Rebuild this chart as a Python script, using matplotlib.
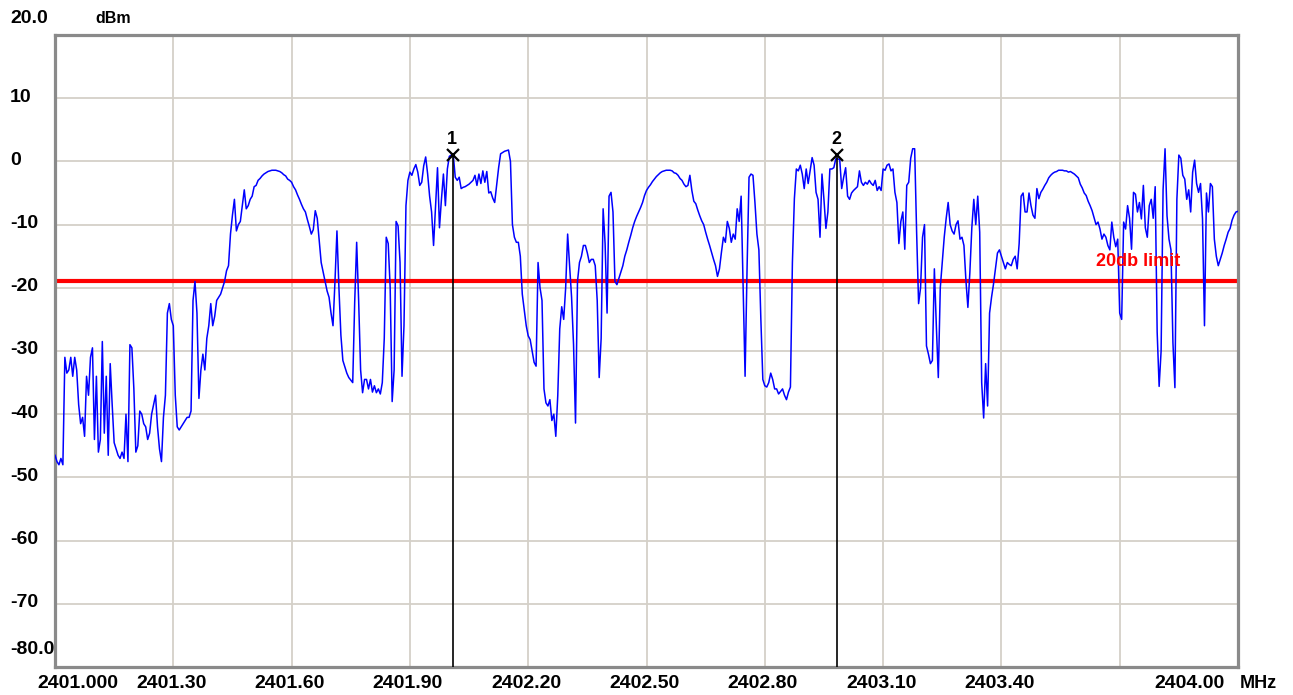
"""
Spectrum analyzer sweep, 2401-2404 MHz, with two peak markers and a
-19 dBm "20db limit" reference line.  Redrawn as out.png (1293x695).
"""

import numpy as np
import matplotlib
matplotlib.use("Agg")
import matplotlib.pyplot as plt
import matplotlib.transforms as mtrans

OUT_PATH = "out.png"

# sweep: 601 analyzer bins from 2401.000 to 2404.000 MHz
F_START = 2401.0
F_STOP = 2404.0
N_BINS = 601

# trace level per bin (dBm), 10 bins per row
level_dbm = [
    -46.5, -47.5, -48, -47, -48, -31, -33.5, -33, -31, -34,
    -31, -33, -38.5, -41.5, -40.5, -43.5, -34, -37, -31, -29.5,
    -44, -34, -46, -44, -28.5, -43, -34, -46.5, -32, -38.5,
    -44.5, -45.5, -46.5, -47, -46, -47, -40, -47.5, -29, -29.5,
    -36, -46, -45, -39.5, -40, -41.5, -42, -44, -43, -40,
    -38.5, -37, -42, -45.5, -47.5, -40.5, -37, -24, -22.5, -25,
    -26, -37, -42, -42.5, -42, -41.5, -41, -40.5, -40.5, -39.5,
    -22, -19, -24, -37.5, -33, -30.5, -33, -28, -26, -22.5,
    -26, -24.5, -22, -21.5, -21, -20, -19, -17.3, -16.5, -11.5,
    -8.5, -6, -11, -10, -9.5, -7, -4.5, -7.5, -7, -6,
    -5.5, -4, -3.8, -3, -2.7, -2.3, -2, -1.8, -1.6, -1.5,
    -1.4, -1.4, -1.4, -1.5, -1.6, -1.8, -2.1, -2.3, -2.8, -3,
    -3.3, -4, -4.5, -5.3, -6, -6.8, -7.5, -8, -9.2, -10.3,
    -11.5, -10.8, -7.8, -9, -12.5, -16, -17.5, -19, -20.5, -21.5,
    -24, -26, -19, -11, -20, -27.5, -31.5, -32.5, -33.5, -34.2,
    -34.6, -35, -22.3, -12.8, -22, -33, -36.6, -34.5, -34.5, -36,
    -34.5, -36.5, -35.5, -36.6, -36, -36.8, -35, -28, -12, -13,
    -20, -38, -33, -9.5, -10.2, -16, -34, -26, -7, -3,
    -1.7, -2.2, -1.2, -0.5, -1.7, -3.8, -3.3, -0.7, 0.7, -2,
    -5.5, -8, -13.3, -7, -1, -10.5, -6, -2, -7, -1.2,
    0.8, 1, 1, -2.5, -3, -2.5, -4.3, -4.1, -4, -3.8,
    -3.6, -3.3, -3, -2.2, -3.8, -2, -3.5, -1.5, -3.3, -1.6,
    -5, -4.8, -5.8, -6.5, -3.8, -1, 1.2, 1.4, 1.6, 1.7,
    1.8, 0, -10, -12, -12.8, -12.8, -15, -21, -23.5, -26,
    -27.6, -28.2, -30, -31.8, -32.4, -16, -20, -22, -36, -38.2,
    -38.7, -37.7, -41, -40, -43.5, -37, -26.5, -23, -25, -20,
    -11.5, -16.5, -21.5, -29, -41.4, -19, -16, -15, -13.3, -13.3,
    -14.5, -16, -15.5, -15.5, -16.5, -22, -34.2, -28, -7.5, -13,
    -24, -5.5, -4.9, -8, -19, -19.5, -18.5, -17.5, -16.5, -15,
    -14, -12.8, -11.7, -10.5, -9.5, -8.7, -8, -7.3, -6.5, -5.4,
    -4.6, -4.1, -3.7, -3.2, -2.8, -2.4, -2.1, -1.8, -1.6, -1.5,
    -1.4, -1.4, -1.4, -1.5, -1.8, -1.9, -2.2, -2.7, -3, -3.6,
    -4, -3.8, -2.2, -4.6, -6.3, -6.7, -7.7, -8.6, -9.4, -10,
    -11.2, -12.3, -13.3, -14.4, -15.5, -16.5, -18.2, -17, -14.4, -12,
    -12.8, -9.5, -10.6, -12.8, -11.5, -12.3, -7.5, -9.5, -5.5, -20,
    -34, -17, -2.5, -2, -2.2, -6.5, -11.5, -14, -25, -34.5,
    -35.5, -35.7, -35, -33.5, -34.5, -36, -36, -36.8, -36.4, -36,
    -37, -37.7, -36.5, -35.7, -16, -5.9, -1.2, -1.5, -0.6, -2,
    -4.3, -1.2, -3.5, -1.5, 0.6, -0.6, -4.9, -6, -12, -2,
    -6, -10.6, -8, -1.2, -1.2, -1, 0.4, 0.4, 0.3, -4.3,
    -2.5, -1, -5.5, -6, -5, -4.6, -4.3, -4, -1.5, -3.3,
    -3.8, -3.3, -3.6, -3, -3.5, -3.8, -3, -4.6, -4, -4.6,
    -1.2, -1.4, -0.6, -0.4, -1.5, -1.2, -4.9, -6.5, -13, -9.5,
    -8, -13.9, -3.8, -3.3, 0.5, 2, 2, -11.2, -22.5, -20,
    -12, -10, -29.2, -30.5, -32, -31.5, -17, -26, -34.2, -20,
    -16, -12, -9, -6.5, -10, -11, -11.5, -10, -9.4, -12.3,
    -12, -13.3, -18.8, -23.1, -17.6, -10.5, -6, -10, -5.5, -11.2,
    -35, -40.6, -32, -38.7, -24, -21.5, -19.4, -17, -14.5, -14,
    -15, -16, -17, -16, -16.3, -16.5, -15.5, -15, -17, -13,
    -5.5, -5, -8, -8, -5, -7, -8.5, -9, -4.3, -5.9,
    -4.9, -4.4, -3.8, -3.3, -2.6, -2.2, -1.9, -1.7, -1.6, -1.4,
    -1.4, -1.4, -1.5, -1.5, -1.7, -1.6, -1.8, -2, -2.3, -2.6,
    -3.6, -4.2, -5, -5.4, -6.3, -7, -7.8, -8.9, -10, -9.6,
    -10.7, -12.3, -11.5, -12, -13.3, -14, -9.6, -12, -13.5, -12.3,
    -24, -25, -9.6, -10.7, -7, -9, -13.9, -4.9, -5.2, -8,
    -6.5, -9.1, -3.8, -10.5, -12, -7, -6, -9, -4, -27,
    -35.6, -30, -4.5, 2, -8.6, -12.3, -14, -28.7, -35.8, -6,
    1, 0.5, -2.2, -2.8, -6, -4.5, -8, -1.7, 0.2, -3.5,
    -4.9, -3.5, -9.1, -26, -5, -8, -3.5, -4, -12.3, -15,
    -16.5, -15.5, -14.5, -13.3, -12.3, -11.2, -10.6, -9.3, -8.5, -8,
    -7.9,
]

# markers (frequency MHz, level dBm)
marker_ids = ["1", "2"]
marker_freq = [2402.009, 2402.983]
marker_dbm = [1.0, 1.0]

LIMIT_DBM = -19.0
LIMIT_LABEL = "20db limit"

# axis scale
Y_MIN, Y_MAX = -80, 20
y_ticks = list(range(-80, 21, 10))
y_labels = ["-80.0", "-70", "-60", "-50", "-40", "-30", "-20", "-10", "0", "10", "20.0"]
x_ticks = [2401.0 + 0.3 * k for k in range(11)]
x_labels = ["2401.000", "2401.30", "2401.60", "2401.90", "2402.20", "2402.50",
            "2402.80", "2403.10", "2403.40", "", "2404.00"]

FONT = "Liberation Sans"
GRID_COLOR = "#d4d0c8"
FRAME_COLOR = "#8a8a8a"


def main() -> None:
    freq = np.linspace(F_START, F_STOP, N_BINS)
    level = np.asarray(level_dbm)
    assert len(level) == N_BINS

    fig = plt.figure(figsize=(12.93, 6.95), dpi=100)
    ax = fig.add_axes([55 / 1293, 28 / 695, 1183 / 1293, 632 / 695])
    ax.set_xlim(F_START, F_STOP)
    ax.set_ylim(Y_MIN, Y_MAX)
    ax.set_xticks(x_ticks)
    ax.set_yticks(y_ticks)
    ax.tick_params(length=0, labelbottom=False, labelleft=False)
    ax.grid(True, color=GRID_COLOR, lw=1.3)
    ax.set_axisbelow(True)
    for sp in ax.spines.values():
        sp.set_color(FRAME_COLOR)
        sp.set_linewidth(2.3)

    ax.axhline(LIMIT_DBM, color="#ff0000", lw=3.0, zorder=2)
    ax.plot(freq, level, color="#0000ff", lw=1.1, zorder=3)

    for mid, mf, md in zip(marker_ids, marker_freq, marker_dbm):
        ax.plot([mf, mf], [Y_MIN, md], color="black", lw=1.2, zorder=4)
        ax.plot(mf, md, marker="x", color="black", ms=8, mew=1.6, zorder=5)
        ax.annotate(mid, xy=(mf, md), xytext=(-1, 16), textcoords="offset pixels",
                    ha="center", va="center", fontsize=13, fontweight="bold",
                    family=FONT, zorder=5)

    ax.annotate(LIMIT_LABEL, xy=(F_STOP, LIMIT_DBM), xytext=(-58, 20),
                textcoords="offset pixels", ha="right", va="center",
                color="#ff0000", fontsize=13, fontweight="bold", family=FONT)

    # y tick labels, left aligned at the figure edge
    ytr = mtrans.blended_transform_factory(ax.transAxes, ax.transData)
    for v, lab in zip(y_ticks, y_labels):
        dy = 1
        if v == Y_MAX:
            dy = 16
        elif v == Y_MIN:
            dy = 18
        ax.annotate(lab, xy=(0, v), xycoords=ytr, xytext=(-45, dy),
                    textcoords="offset pixels", ha="left", va="center",
                    fontsize=14, fontweight="bold", family=FONT,
                    annotation_clip=False)
    ax.annotate("dBm", xy=(0, Y_MAX), xycoords=ytr, xytext=(40, 16),
                textcoords="offset pixels", ha="left", va="center",
                fontsize=11.5, fontweight="bold", family=FONT,
                annotation_clip=False)

    # x tick labels
    xtr = mtrans.blended_transform_factory(ax.transData, ax.transAxes)
    for i, (v, lab) in enumerate(zip(x_ticks, x_labels)):
        if not lab:
            continue
        if i == 0:
            ha, dx = "left", -18
        elif i == len(x_ticks) - 1:
            ha, dx = "right", -13
        else:
            ha, dx = "center", -2
        ax.annotate(lab, xy=(v, 0), xycoords=xtr, xytext=(dx, -17),
                    textcoords="offset pixels", ha=ha, va="center",
                    fontsize=14, fontweight="bold", family=FONT,
                    annotation_clip=False)
    ax.annotate("MHz", xy=(F_STOP, 0), xycoords=xtr, xytext=(2, -17),
                textcoords="offset pixels", ha="left", va="center",
                fontsize=13, fontweight="bold", family=FONT,
                annotation_clip=False)

    fig.savefig(OUT_PATH, dpi=100, facecolor="white")
    plt.close(fig)


if __name__ == "__main__":
    main()
